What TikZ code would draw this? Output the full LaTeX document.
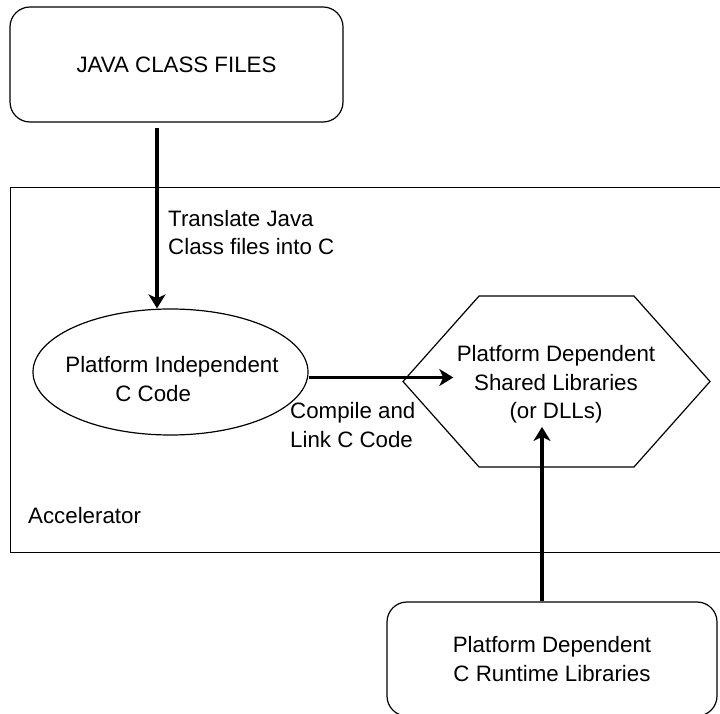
\documentclass[tikz,border=0pt]{standalone}
\usepackage{fontspec}
\setmainfont{Liberation Sans}
\usetikzlibrary{shapes,%
                shapes.symbols,%
                arrows.meta}

\begin{document}
\begin{tikzpicture}[x=1pt,y=1pt,
  every node/.style={font=\fontsize{22.3}{28.5}\selectfont},
  box/.style={draw,line width=1.2pt,rounded corners=20pt,align=center,
              minimum width=333pt,minimum height=115pt},
  flow/.style={line width=3.4pt,-{Stealth[length=14pt,width=17pt,inset=4pt]}},
  lbl/.style={anchor=west,inner sep=0pt,align=left}]

  \useasboundingbox (0,0) rectangle (720,713);
  \clip (0,0) rectangle (720,713);

  \node[draw,line width=1.2pt,anchor=north west,
        minimum width=720pt,minimum height=365pt] (acc) at (10,526) {};
  \node[lbl] (acclabel) at (28,197) {Accelerator};

  \node[box] (javafiles) at (176.5,648.5) {JAVA CLASS FILES};
  \node[box,minimum width=330pt,minimum height=114pt] (runtime) at (552,54)
       {Platform Dependent\\C Runtime Libraries};

  \node[ellipse,draw,line width=1.2pt,minimum width=275pt,minimum height=126pt] (ccode) at (170.5,341) {};
  \node[align=left] (ccodetxt) at (172,334) {Platform Independent\\\hspace*{50pt}C Code};

  \node[signal,signal to=east and west,signal pointer angle=96.7,draw,line width=1.2pt,
        minimum width=307pt,minimum height=171pt] (hex) at (556.5,331.5) {};
  \node[align=center] (dll) at (556,328.5) {Platform Dependent\\Shared Libraries\\(or DLLs)};

  \node[lbl] (translate) at (168,480.5) {Translate Java\\Class files into C};
  \node[lbl] (compile) at (290,288) {Compile and\\Link C Code};

  \draw[flow] ([xshift=-19.5pt,yshift=-5pt]javafiles.south) -- ([xshift=-13.5pt]ccode.north);
  \draw[flow] ([yshift=-5.5pt]ccode.east) -- ([yshift=-5.5pt]ccode.east -| dll.west);
  \draw[flow] ([xshift=-10pt]runtime.north) -- ([xshift=-10pt]runtime.north |- dll.south);

\end{tikzpicture}
\end{document}
